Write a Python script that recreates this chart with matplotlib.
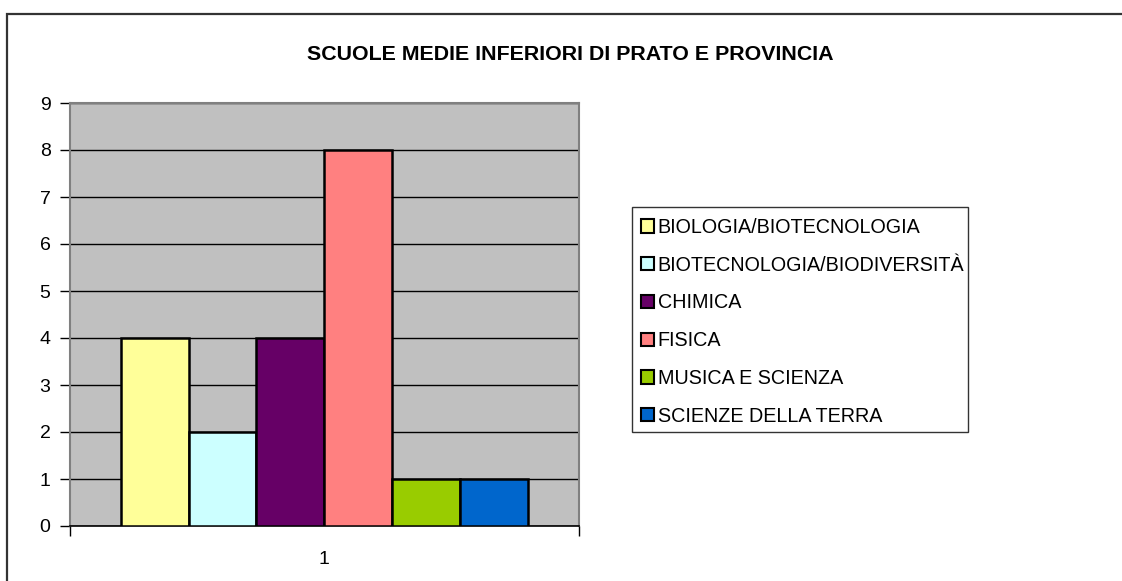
import matplotlib
matplotlib.use("Agg")
import matplotlib.pyplot as plt
from matplotlib.patches import Rectangle, Patch
import numpy as np

plt.rcParams['font.family'] = ['Liberation Sans', 'DejaVu Sans']

title = "SCUOLE MEDIE INFERIORI DI PRATO E PROVINCIA"
categories = ["1"]
series = ["BIOLOGIA/BIOTECNOLOGIA", "BIOTECNOLOGIA/BIODIVERSITÀ", "CHIMICA",
          "FISICA", "MUSICA E SCIENZA", "SCIENZE DELLA TERRA"]
values = [4, 2, 4, 8, 1, 1]
colors = ["#FFFF99", "#CCFFFF", "#660066", "#FF8080", "#99CC00", "#0066CC"]
yticks = list(range(0, 10))

W, H = 1122, 581
fig = plt.figure(figsize=(W / 100, H / 100), dpi=100)
fig.patch.set_facecolor("white")

def fx(px):
    return px / W

def fy(py):
    return 1 - py / H

# outer chart border (extends past right/bottom edges)
fig.patches.append(Rectangle((fx(7), fy(600)), fx(1140 - 7), fy(14) - fy(600),
                             transform=fig.transFigure, fill=False,
                             edgecolor="#333333", linewidth=1.6, zorder=0))

left, right, top, bottom = 70, 578.5, 103, 526
ax = fig.add_axes([fx(left), fy(bottom), fx(right - left), fy(top) - fy(bottom)])
ax.set_facecolor("#C0C0C0")

n = len(series)
group = 0.8
bw = group / n
x0 = 0
for i, (lab, v, c) in enumerate(zip(series, values, colors)):
    xpos = x0 - group / 2 + bw * (i + 0.5)
    ax.bar(xpos, v, width=bw, color=c, edgecolor="black", linewidth=1.8,
           label=lab, zorder=3)

ax.set_xlim(-0.5, 0.5)
ax.set_ylim(0, 9)
ax.set_yticks(yticks)
ax.set_yticklabels([str(t) for t in yticks], fontsize=14)
ax.yaxis.grid(True, color="black", linewidth=1.0, zorder=1)
ax.set_axisbelow(True)

# x ticks at category boundaries, label at center
ax.set_xticks([-0.5, 0.5])
ax.set_xticklabels(["", ""])
ax.set_xticks([0], minor=True)
ax.set_xticklabels(categories, minor=True, fontsize=14)
ax.tick_params(axis="x", which="minor", length=0, pad=18)
ax.tick_params(axis="x", which="major", length=7, width=1, color="black", direction="out")
ax.tick_params(axis="y", length=7, width=1, color="black", direction="out", pad=7)

for s in ["top", "right", "left"]:
    ax.spines[s].set_color("#808080")
    ax.spines[s].set_linewidth(1.5)
ax.spines["bottom"].set_color("black")
ax.spines["bottom"].set_linewidth(1.2)

fig.text(fx(570), fy(54.5), title, ha="center", va="center",
         fontsize=15.4, fontweight="bold")

# legend frame
lx0, ly0, lx1, ly1 = 632, 207, 968, 432
fig.patches.append(Rectangle((fx(lx0), fy(ly1)), fx(lx1 - lx0), fy(ly0) - fy(ly1),
                             transform=fig.transFigure, fill=False,
                             edgecolor="#333333", linewidth=1.0, zorder=5))
handles = [Patch(facecolor=c, edgecolor="black", linewidth=1.5) for c in colors]
leg = fig.legend(handles, series, loc="upper left",
                 bbox_to_anchor=(fx(641), fy(218)), frameon=False,
                 fontsize=14.2, labelspacing=0.95, handlelength=0.65,
                 handleheight=0.65, handletextpad=0.2, borderpad=0,
                 borderaxespad=0)

fig.savefig("out.png", dpi=100)
